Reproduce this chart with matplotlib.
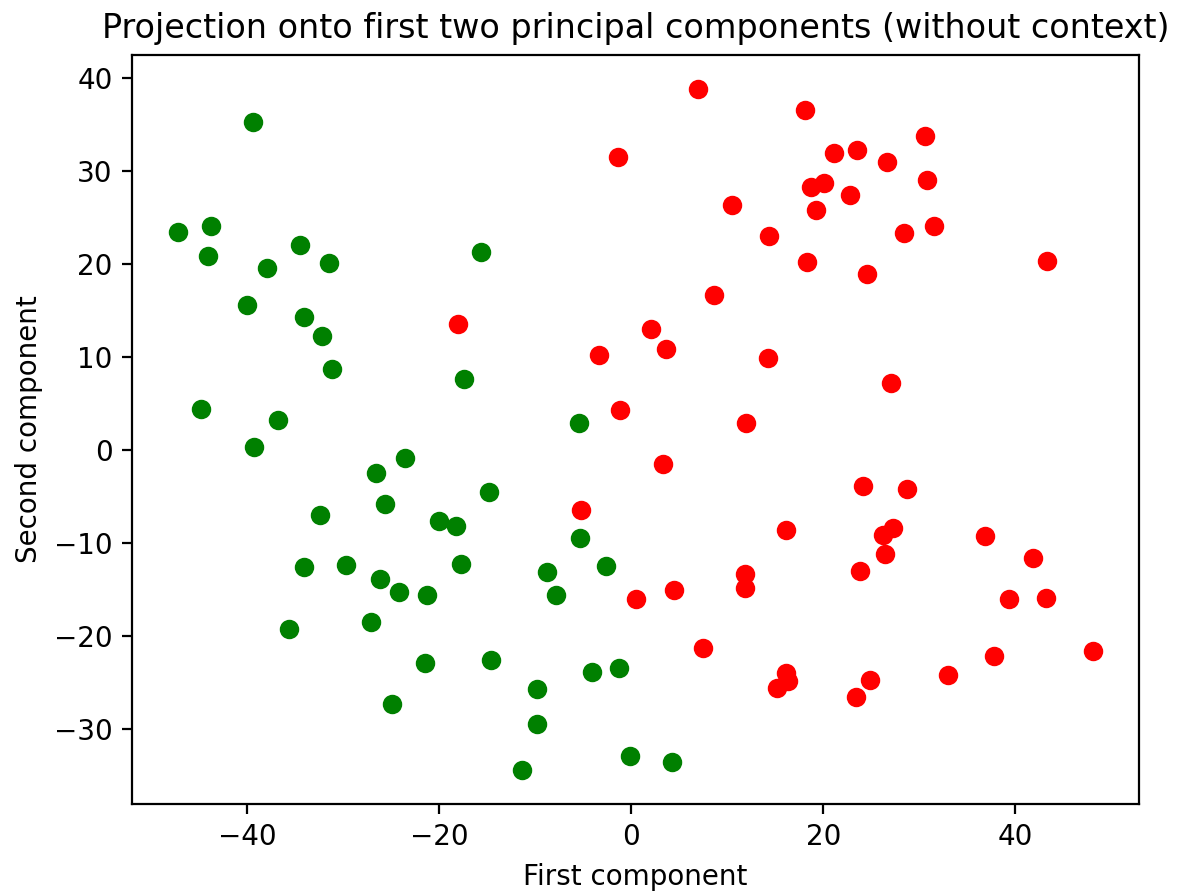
import numpy as np
import matplotlib.pyplot as plt

# projected samples, first / second principal component
green_x = [-39.4, -47.2, -43.7, -44.1, -34.5, -31.5, -37.9, -15.6, -40.0, -34.1,
           -32.2, -31.1, -17.4, -44.8, -36.8, -39.3, -5.45, -23.5, -26.6, -25.6,
           -14.8, -32.4, -20.0, -18.2, -5.3, -29.7, -34.1, -17.7, -8.8, -2.6,
           -26.1, -24.2, -21.3, -7.8, -27.1, -35.6, -21.5, -14.6, -4.1, -1.25,
           -9.8, -24.9, -9.8, -11.4, -0.1, 4.3]
green_y = [35.3, 23.4, 24.1, 20.9, 22.0, 20.1, 19.6, 21.3, 15.6, 14.3,
           12.2, 8.7, 7.6, 4.4, 3.2, 0.3, 2.9, -0.9, -2.5, -5.8,
           -4.5, -7.0, -7.6, -8.2, -9.5, -12.4, -12.6, -12.3, -13.1, -12.5,
           -13.9, -15.3, -15.6, -15.6, -18.5, -19.2, -22.9, -22.6, -23.9, -23.4,
           -25.7, -27.3, -29.5, -34.4, -32.9, -33.5]

red_x = [7.0, 18.1, 30.6, -1.35, 21.1, 23.5, 26.6, 30.8, 18.75, 20.1,
         22.8, 10.5, 19.2, 31.5, 14.3, 28.4, 18.3, 43.3, 24.5, 8.6,
         -18.0, 2.1, 3.6, -3.4, 14.2, 27.0, -1.2, 12.0, 3.3, 24.1,
         28.7, -5.2, 16.1, 27.3, 26.2, 36.8, 26.4, 41.8, 11.9, 23.8,
         11.9, 4.5, 0.5, 39.3, 43.2, 7.5, 48.1, 37.8, 33.0, 16.1,
         16.3, 24.9, 15.2, 23.4]
red_y = [38.8, 36.6, 33.7, 31.5, 31.9, 32.2, 31.0, 29.0, 28.3, 28.7,
         27.4, 26.3, 25.8, 24.1, 23.0, 23.3, 20.2, 20.3, 18.9, 16.7,
         13.5, 13.0, 10.9, 10.2, 9.9, 7.2, 4.3, 2.9, -1.5, -3.9,
         -4.2, -6.5, -8.6, -8.4, -9.1, -9.2, -11.2, -11.6, -13.3, -13.0,
         -14.8, -15.05, -16.0, -16.0, -15.9, -21.3, -21.6, -22.2, -24.2, -24.0,
         -24.8, -24.7, -25.6, -26.6]

fig = plt.figure(figsize=(1179 / 200, 892 / 200), dpi=200)
ax = fig.add_axes([132 / 1179, 1 - 804 / 892, 1007 / 1179, 749 / 892])

ax.scatter(green_x, green_y, c='green')
ax.scatter(red_x, red_y, c='red')

ax.set_title('Projection onto first two principal components (without context)')
ax.set_xlabel('First component')
ax.set_ylabel('Second component')

fig.savefig('out.png', dpi=200)
